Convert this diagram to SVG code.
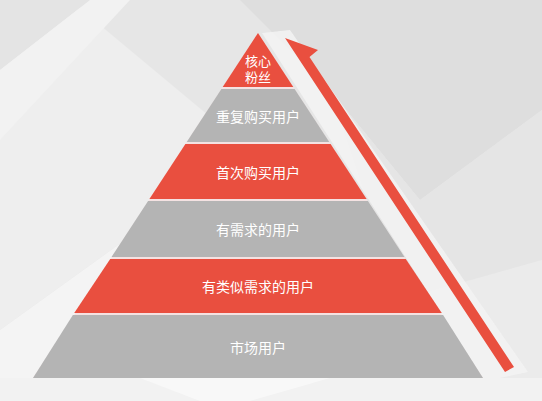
<svg xmlns="http://www.w3.org/2000/svg" width="542" height="401" viewBox="0 0 542 401">
<style>
.red{fill:#e94f3f}
.gray{fill:#b4b4b4}
.lbl{font-family:"Noto Sans CJK SC","Noto Sans",sans-serif;font-size:14px;fill:#ffffff;text-anchor:middle;dominant-baseline:central}
.top{font-family:"Liberation Sans","Noto Sans CJK SC",sans-serif;font-size:13px}
</style>
<g id="background">
<rect x="0" y="0" width="542" height="401" fill="#e6e6e6"/>
<polygon points="0,0 70,0 250,150 0,330" fill="#eeeeee"/>
<polygon points="0,0 90,0 0,70" fill="#e4e4e4"/>
<polygon points="0,70 90,0 130,0 0,140" fill="#f2f2f2"/>
<polygon points="0,330 250,150 200,401 0,401" fill="#f4f4f4"/>
<polygon points="240,0 542,0 542,110 420,200 330,90" fill="#dedede"/>
<polygon points="330,90 420,200 542,110 542,260 400,300" fill="#e5e5e5"/>
<polygon points="400,300 542,260 542,401 380,401" fill="#ebebeb"/>
<polygon points="0,378 542,378 542,401 0,401" fill="#f2f2f2"/>
<polygon points="140,378 330,378 250,401 200,401" fill="#f8f8f8"/>
</g>
<g id="highlight-strip">
<polygon points="262,33 290,30 528,372 500,378 483,378" fill="#f3f3f3" opacity="0.85"/>
</g>
<g id="pyramid-base">
<polygon points="258,33 483,378 33,378" fill="#f4e2e2"/>
</g>
<g id="node-core">
<polygon class="red" points="258,33 293.3,87 222.7,87"/>
<text class="lbl top" x="258" y="61">核心</text>
<text class="lbl top" x="258" y="77">粉丝</text>
</g>
<g id="node-repeat">
<polygon class="gray" points="221.4,89 294.6,89 329.3,142 186.7,142"/>
<text class="lbl" x="258" y="116">重复购买用户</text>
</g>
<g id="node-first">
<polygon class="red" points="185.4,144 330.6,144 366.6,199 149.4,199"/>
<text class="lbl" x="258" y="172">首次购买用户</text>
</g>
<g id="node-demand">
<polygon class="gray" points="148.1,201 367.9,201 404.5,257 111.5,257"/>
<text class="lbl" x="258" y="229">有需求的用户</text>
</g>
<g id="node-similar">
<polygon class="red" points="110.2,259 405.8,259 441.8,313 74.2,313"/>
<text class="lbl" x="258" y="286">有类似需求的用户</text>
</g>
<g id="node-market">
<polygon class="gray" points="72.9,315 443.1,315 483,378 33,378"/>
<text class="lbl" x="258" y="347">市场用户</text>
</g>
<g id="connectors">
<polygon class="red" points="285,38 318,50 309.5,57 514,367 505,372"/>
</g>
</svg>
